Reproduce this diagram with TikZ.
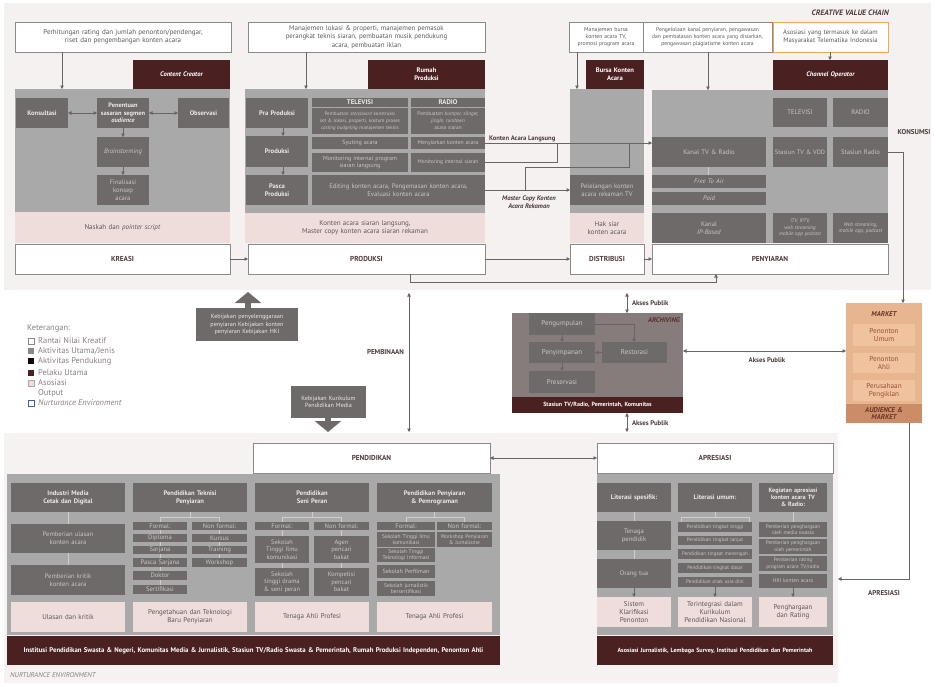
\documentclass[tikz,border=0pt]{standalone}
\usepackage{fontspec}
\setmainfont{PT Sans}
\usetikzlibrary{arrows.meta,calc}

\definecolor{bgtop}{HTML}{F6F1F1}
\definecolor{bgbot}{HTML}{F7F2F2}
\definecolor{panelgray}{HTML}{A9A9A9}
\definecolor{boxgray}{HTML}{6F6A6A}
\definecolor{maroon}{HTML}{4A2120}
\definecolor{pinkout}{HTML}{EEDDDA}
\definecolor{edgegray}{HTML}{8A8A8A}
\definecolor{txtdark}{HTML}{4E3A3A}
\definecolor{txtgray}{HTML}{5E5858}
\definecolor{lighttxt}{HTML}{ECE8E8}
\definecolor{dimtxt}{HTML}{CBC6C6}
\definecolor{archgray}{HTML}{877C7C}
\definecolor{mkt}{HTML}{E8B591}
\definecolor{mktin}{HTML}{F1C29E}
\definecolor{mktbar}{HTML}{CB8D68}
\definecolor{mkttxt}{HTML}{93513E}
\definecolor{mktdark}{HTML}{6B3526}
\definecolor{orangeedge}{HTML}{F2A65A}
\definecolor{linegray}{HTML}{6A6464}
\definecolor{treegray}{HTML}{D2CDCD}
\definecolor{legtxt}{HTML}{8A8080}
\definecolor{nurtblue}{HTML}{3C5FA5}
\definecolor{archtxt}{HTML}{5C2E2E}

\newcommand\fsz[2]{\fontsize{#1}{#2}\selectfont}

\tikzset{
  base/.style={inner sep=1pt, outer sep=0pt, align=center},
  topbox/.style={base, draw=edgegray, line width=0.7pt, fill=white, text=txtgray, font=\fsz{7}{8.4}},
  actor/.style={base, fill=maroon, text=white, font=\fsz{6.6}{7.8}\bfseries},
  actorit/.style={actor, font=\fsz{6.6}{7.8}\bfseries\itshape},
  panel/.style={base, fill=panelgray},
  dbox/.style={base, fill=boxgray, text=lighttxt, font=\fsz{6.6}{7.8}\bfseries},
  lbox/.style={base, fill=boxgray, text=dimtxt, font=\fsz{6.6}{7.8}},
  sbox/.style={lbox, inner ysep=0pt, font=\fsz{6.6}{7}},
  outbox/.style={base, fill=pinkout, text=txtgray, font=\fsz{7}{8.3}},
  chain/.style={base, draw=edgegray, line width=0.7pt, fill=white, text=txtdark, font=\fsz{7.2}{8.4}\bfseries},
  lbl/.style={inner sep=0pt, outer sep=0pt, text=txtdark, font=\fsz{7}{8}\bfseries, align=center},
  mktbox/.style={base, fill=mktin, text=mkttxt, font=\fsz{7.2}{8.2}},
  arr/.style={draw=linegray, line width=0.6pt, -{Triangle[length=3.5pt,width=3.5pt]}},
  darr/.style={draw=linegray, line width=0.6pt, {Triangle[length=3.5pt,width=3.5pt]}-{Triangle[length=3.5pt,width=3.5pt]}},
  ln/.style={draw=linegray, line width=0.6pt},
  tree/.style={draw=treegray, line width=0.5pt},
  fatarrow/.style={draw=boxgray, line width=6pt, -{Triangle[length=11pt,width=26pt]}},
  legsq/.style={minimum size=6pt, inner sep=0pt, outer sep=0pt, line width=0.6pt},
  legtx/.style={inner sep=0pt, anchor=west, text=legtxt, font=\fsz{8.4}{9.5}},
}

% box from (x1,y1) to (x2,y2), y measured downwards
\newcommand\plbox[8][]{%
  \pgfmathsetmacro\bxw{#6-#4}%
  \pgfmathsetmacro\bxh{#7-#5}%
  \pgfmathsetmacro\bxt{max(#6-#4-2,1)}%
  \node[#2, anchor=north west, minimum width=\bxw pt, minimum height=\bxh pt, text width=\bxt pt, #1] (#3) at (#4,#5) {#8};}

\begin{document}
\begin{tikzpicture}[x=1pt,y=-1pt]
\useasboundingbox (0,0) rectangle (934,686);
\fill[white] (0,0) rectangle (934,686);
\fill[bgtop] (4,3) rectangle (931,290);
\fill[bgbot] (4,433) rectangle (838,683);

\node[anchor=east, inner sep=0pt, text=txtdark, font=\fsz{7.8}{9}\bfseries\itshape] (cvc) at (889,13) {CREATIVE VALUE CHAIN};

% ---------------- KREASI ----------------
\plbox{topbox}{kTop}{15}{22}{231}{52}{Perhitungan rating dan jumlah penonton/pendengar,\\ riset dan pengembangan konten acara}
\plbox{panel}{kPan}{15}{89}{230}{212}{}
\plbox{actorit}{kAct}{133}{60}{230}{89}{Content Creator}
\plbox{dbox}{kKons}{16}{98}{68}{128}{Konsultasi}
\plbox[font=\fsz{6.4}{7.6}\bfseries]{dbox}{kSeg}{97}{98}{149}{128}{Penentuan\\ sasaran segmen\\ \textit{audience}}
\plbox{dbox}{kObs}{178}{98}{229}{128}{Observasi}
\plbox[font=\fsz{6.6}{7.8}\itshape]{lbox}{kBrain}{97}{137}{149}{167}{Brainstorming}
\plbox{lbox}{kFin}{97}{175}{149}{205}{Finalisasi\\ konsep\\ acara}
\plbox{outbox}{kOut}{15}{212}{230}{243}{Naskah dan \textit{pointer script}}
\plbox{chain}{kChain}{15}{244}{230}{274}{KREASI}

\draw[arr] (62,0 |- kTop.south) -- (62,0 |- kPan.north);
\draw[darr] (kKons.east) -- (kSeg.west);
\draw[darr] (kSeg.east) -- (kObs.west);
\draw[arr] (kSeg.south) -- (kBrain.north);
\draw[arr] (kBrain.south) -- (kFin.north);

% ---------------- PRODUKSI ----------------
\plbox[font=\fsz{6.9}{8.3}]{topbox}{pTop}{248}{22}{485}{52}{Manajemen lokasi \& properti, manajemen pemasok\\ perangkat teknis siaran, pembuatan musik pendukung\\ acara, pembuatan iklan}
\plbox{panel}{pPan}{245}{89}{485}{213}{}
\plbox{actor}{pAct}{368}{60}{485}{89}{Rumah\\ Produksi}
\plbox{dbox}{pPra}{246}{98}{308}{128}{Pra Produksi}
\plbox{dbox}{pProd}{246}{136}{308}{167}{Produksi}
\plbox{dbox}{pPasca}{246}{175}{308}{205}{Pasca\\ Produksi}
\plbox[inner ysep=0pt, font=\fsz{6.8}{7.2}\bfseries]{dbox}{pTV}{312}{98}{408}{107}{TELEVISI}
\plbox[inner ysep=0pt, font=\fsz{6.8}{7.2}\bfseries]{dbox}{pRad}{411}{98}{485}{107}{RADIO}
\plbox[inner ysep=0pt, font=\fsz{5}{7}]{lbox}{pTVa}{312}{108}{408}{134}{Pembuatan \textit{storyboard} konstruksi\\ set \& lokasi, properti, kostum proses\\ \textit{casting budgeting} manajemen teknis}
\plbox[inner ysep=0pt, font=\fsz{5.3}{7}]{lbox}{pRadA}{411}{108}{485}{134}{Pembuatan \textit{bumper, slinger,}\\ \textit{jingle, rundown}\\ acara siaran}
\plbox[inner ysep=0pt, font=\fsz{6}{7}]{lbox}{pTVb}{312}{137}{408}{149}{Syuting acara}
\plbox[inner ysep=0pt, font=\fsz{5.6}{7}]{lbox}{pRadB}{411}{137}{485}{149}{Menyiarkan konten acara}
\plbox[inner ysep=0pt, font=\fsz{6}{7.2}]{lbox}{pTVc}{312}{153}{408}{172}{Monitoring internal program\\ siaran langsung}
\plbox[inner ysep=0pt, font=\fsz{5.4}{7}]{lbox}{pRadC}{411}{153}{485}{172}{Monitoring internal siaran}
\plbox{lbox}{pEd}{312}{175}{485}{205}{Editing konten acara, Pengemasan konten acara,\\ Evaluasi konten acara}
\plbox{outbox}{pOut}{245}{213}{485}{243}{Konten acara siaran langsung,\\ Master copy konten acara siaran rekaman}
\plbox{chain}{pChain}{248}{244}{485}{274}{PRODUKSI}

\draw[arr] (306,0 |- pTop.south) -- (306,0 |- pPan.north);
\draw[arr] (283,0 |- pPra.south) -- (283,0 |- pProd.north);
\draw[arr] (283,0 |- pProd.south) -- (283,0 |- pPasca.north);

% ---------------- DISTRIBUSI ----------------
\plbox[font=\fsz{5.7}{7.2}]{topbox}{dTop}{569}{22}{643}{52}{Manajemen bursa\\ konten acara TV,\\ promosi program acara}
\plbox{panel}{dPan}{570}{89}{644}{213}{}
\plbox{actor}{dAct}{586}{60}{644}{89}{Bursa Konten\\ Acara}
\plbox{lbox}{dLel}{570}{175}{644}{205}{Pelelangan konten\\ acara rekaman TV}
\plbox{outbox}{dOut}{570}{213}{644}{243}{Hak siar\\ konten acara}
\plbox{chain}{dChain}{570}{244}{644}{274}{DISTRIBUSI}

\draw[arr] (577,0 |- dTop.south) -- (577,0 |- dPan.north);

% ---------------- PENYIARAN ----------------
\plbox[font=\fsz{5.6}{7.2}]{topbox}{sTop}{643}{22}{772}{52}{Pengelolaan kanal penyiaran, pengawasan\\ dan pembatasan konten acara yang disiarkan,\\ pengawasan plagiatisme konten acara}
\plbox[draw=orangeedge, font=\fsz{6.6}{8}]{topbox}{sAsc}{773}{22}{888}{52}{Asosiasi yang termasuk ke dalam\\ Masyarakat Telematika Indonesia}
\plbox{panel}{sPan}{652}{90}{888}{243}{}
\plbox{actorit}{sAct}{773}{60}{888}{90}{Channel Operator}
\plbox{lbox}{sTV}{773}{98}{827}{127}{TELEVISI}
\plbox{lbox}{sRad}{833}{98}{888}{127}{RADIO}
\plbox{lbox}{sKanal}{652}{137}{766}{167}{Kanal TV \& Radio}
\plbox[font=\fsz{6.3}{7.6}]{lbox}{sStTV}{773}{137}{827}{167}{Stasiun TV \& VOD}
\plbox{lbox}{sStRad}{833}{137}{888}{167}{Stasiun Radio}
\plbox[inner ysep=0pt, font=\fsz{6.6}{7.4}\itshape]{lbox}{sFTA}{652}{175}{766}{188}{Free To Air}
\plbox[inner ysep=0pt, font=\fsz{6.6}{7.4}\itshape]{lbox}{sPaid}{652}{192}{766}{205}{Paid}
\plbox{lbox}{sIP}{652}{213}{766}{243}{Kanal\\ \textit{IP-Based}}
\plbox[inner ysep=0pt, font=\fsz{5.2}{6.6}\itshape]{lbox}{sITV}{773}{213}{827}{243}{ITV, IPTV,\\ web streaming\\ mobile app podcast}
\plbox[inner ysep=0pt, font=\fsz{5.3}{6.6}\itshape]{lbox}{sWeb}{833}{213}{888}{243}{Web streaming,\\ mobile app, podcast}
\plbox{chain}{sChain}{652}{244}{888}{274}{PENYIARAN}

\draw[arr] (708,0 |- sTop.south) -- (708,0 |- sPan.north);
\draw[arr] (830,0 |- sAsc.south) -- (830,0 |- sAct.north);
\draw[tree] (708,0 |- sKanal.south) -- (708,0 |- sFTA.north);

% ---------------- flows along the value chain ----------------
\draw[arr] (kChain.east) -- (pChain.west);
\draw[arr] (pChain.east) -- (dChain.west);
\draw[arr] (dChain.east) -- (sChain.west);
\draw[arr] (410,0 |- pChain.south) |- (716,282) -- (716,0 |- sChain.south);

\draw[arr] (pRadB.east) -- (pRadB.east -| sKanal.west);
\node[lbl, anchor=south west, font=\fsz{6.6}{7.6}\bfseries] (lblKAL) at (489,142) {Konten Acara Langsung};
\draw[ln] (pRadC.east) -| (557,0 |- pRadB.east);
\draw[ln] (629,0 |- pRadB.east) |- (525,167) -- (525,0 |- pEd.east);
\draw[arr] (pEd.east) -- (dLel.west);
\node[lbl, font=\fsz{6.6}{7.4}\bfseries\itshape] (lblMC) at (529,202) {Master Copy Konten\\ Acara Rekaman};

\node[lbl] (lblKons) at (914,132) {KONSUMSI};

% ---------------- policy and legend ----------------
\plbox[font=\fsz{6.1}{7.4}, text=lighttxt]{lbox}{pol}{196}{308}{298}{341}{Kebijakan penyelenggaraan\\ penyiaran Kebijakan konten\\ penyiaran Kebijakan HKI}
\coordinate (polTip) at (248,292);
\draw[fatarrow] (248,0 |- pol.north) -- (polTip);

\node[legtx] (legT) at (27,328) {Keterangan:};
\node[legsq, draw=edgegray, fill=white] (sq1) at (31,341) {};
\node[legtx] (lg1) at (38,341) {Rantai Nilai Kreatif};
\node[legsq, fill=boxgray!80] (sq2) at (31,351) {};
\node[legtx] (lg2) at (38,351) {Aktivitas Utama/Jenis};
\node[legsq, fill=black!75!maroon] (sq3) at (31,361) {};
\node[legtx] (lg3) at (38,361) {Aktivitas Pendukung};
\node[legsq, fill=maroon] (sq4) at (31,373) {};
\node[legtx] (lg4) at (38,373) {Pelaku Utama};
\node[legsq, draw=legtxt!70, fill=pinkout] (sq5) at (31,383) {};
\node[legtx] (lg5) at (38,383) {Asosiasi};
\node[legtx] (lg6) at (38,393) {Output};
\node[legsq, draw=nurtblue, line width=1pt, fill=white] (sq7) at (31,403) {};
\node[legtx] (lg7) at (38,403) {\textit{Nurturance Environment}};

\plbox[font=\fsz{6.1}{7.4}, text=lighttxt]{lbox}{kur}{291}{386}{366}{418}{Kebijakan Kurikulum\\ Pendidikan Media}
\coordinate (kurTip) at (328,432);
\draw[fatarrow] (328,0 |- kur.south) -- (kurTip);

\coordinate (pbTop) at (409,293);
\coordinate (pbBot) at (409,432);
\draw[darr] (pbTop) -- (pbBot);
\node[lbl, anchor=east] (lblPemb) at (404,352) {PEMBINAAN};

% ---------------- ARCHIVING ----------------
\plbox[fill=archgray]{panel}{arc}{512}{313}{683}{413}{}
\node[anchor=east, inner sep=0pt, text=archtxt, font=\fsz{6.8}{8}\bfseries\itshape] (arcT) at (680,320) {ARCHIVING};
\plbox[font=\fsz{7}{8}]{lbox}{aKum}{529}{313}{595}{335}{Pengumpulan}
\plbox[font=\fsz{7}{8}]{lbox}{aSim}{529}{342}{595}{363}{Penyimpanan}
\plbox[font=\fsz{7}{8}]{lbox}{aRes}{602}{342}{667}{363}{Restorasi}
\plbox[font=\fsz{7}{8}]{lbox}{aPres}{529}{371}{595}{393}{Preservasi}
\plbox[inner ysep=0pt, font=\fsz{6}{7}\bfseries]{actor}{aBar}{512}{397}{683}{413}{Stasiun TV/Radio, Pemerintah, Komunitas}
\draw[arr] (aKum.south) -- (aSim.north);
\draw[arr] (aSim.south) -- (aPres.north);
\draw[arr] (aRes.west) -- (aSim.east);
\draw[arr] (aKum.east) -| (634,0 |- aRes.north);

\coordinate (apTop) at (627,293);
\coordinate (apBot) at (627,432);
\draw[darr] (apTop) -- (627,0 |- arc.north);
\draw[darr] (627,0 |- arc.south) -- (apBot);
\node[lbl, anchor=west, font=\fsz{6.8}{8}\bfseries] (lblAP1) at (632,303) {Akses Publik};
\node[lbl, anchor=west, font=\fsz{6.8}{8}\bfseries] (lblAP2) at (632,423) {Akses Publik};

% ---------------- MARKET ----------------
\plbox[fill=mkt]{panel}{mkt}{846}{303}{922}{423}{}
\node[inner sep=0pt, text=mktdark, font=\fsz{7}{8}\bfseries\itshape] (mktT) at (884,314) {MARKET};
\plbox{mktbox}{mk1}{853}{324}{915}{346}{Penonton\\ Umum}
\plbox{mktbox}{mk2}{853}{353}{915}{373}{Penonton\\ Ahli}
\plbox{mktbox}{mk3}{853}{380}{915}{401}{Perusahaan\\ Pengiklan}
\plbox[fill=mktbar, text=mktdark, inner ysep=0pt, font=\fsz{7}{7.8}\bfseries\itshape]{panel}{mkBar}{846}{404}{922}{423}{AUDIENCE \&\\ MARKET}

\draw[arr] (sStRad.east) -| (903,0 |- mkt.north);
\draw[darr] (arc.east |- 0,351) -- (mkt.west |- 0,351);
\node[lbl, font=\fsz{6.8}{8}\bfseries] (lblAP3) at (767,360) {Akses Publik};

% ---------------- PENDIDIKAN ----------------
\plbox{panel}{ePan}{7}{474}{500}{635}{}
\plbox{chain}{eChain}{253}{443}{490}{473}{PENDIDIKAN}
\plbox[font=\fsz{6.8}{8}\bfseries]{actor}{eBar}{7}{636}{500}{665}{Institusi Pendidikan Swasta \& Negeri, Komunitas Media \& Jurnalistik, Stasiun TV/Radio Swasta \& Pemerintah, Rumah Produksi Independen, Penonton Ahli}
\node[anchor=west, inner sep=0pt, text=legtxt, font=\fsz{7}{8}\itshape] (nurt) at (10,675) {NURTURANCE ENVIRONMENT};

% media industry
\plbox{dbox}{e1h}{11}{483}{125}{512}{Industri Media\\ Cetak dan Digital}
\plbox{lbox}{e1a}{11}{524}{125}{553}{Pemberian ulasan\\ konten acara}
\plbox{lbox}{e1b}{11}{565}{125}{595}{Pemberian kritik\\ konten acara}
\plbox{outbox}{e1o}{11}{602}{125}{632}{Ulasan dan kritik}
\draw[tree] (e1h.south) -- (e1a.north);
\draw[tree] (e1a.south) -- (e1b.north);

% broadcast technicians
\plbox{dbox}{e2h}{133}{483}{247}{512}{Pendidikan Teknisi\\ Penyiaran}
\plbox{sbox}{e2f0}{133}{522}{187}{530}{Formal:}
\plbox{sbox}{e2f1}{133}{534}{187}{542}{Diploma}
\plbox{sbox}{e2f2}{133}{546}{187}{554}{Sarjana}
\plbox{sbox}{e2f3}{133}{558}{187}{567}{Pasca Sarjana}
\plbox{sbox}{e2f4}{133}{571}{187}{580}{Doktor}
\plbox{sbox}{e2f5}{133}{585}{187}{594}{Sertifikasi}
\plbox{sbox}{e2n0}{192}{522}{247}{530}{Non formal:}
\plbox{sbox}{e2n1}{192}{534}{247}{542}{Kursus}
\plbox{sbox}{e2n2}{192}{546}{247}{554}{Training}
\plbox{sbox}{e2n3}{192}{558}{247}{567}{Workshop}
\plbox{outbox}{e2o}{133}{602}{247}{632}{Pengetahuan dan Teknologi\\ Baru Penyiaran}
\draw[tree] (e2h.south) -- ++(0,5) -| (e2f0.north);
\draw[tree] (e2h.south) -- ++(0,5) -| (e2n0.north);
\foreach \a/\b in {e2f0/e2f1,e2f1/e2f2,e2f2/e2f3,e2f3/e2f4,e2f4/e2f5,e2n0/e2n1,e2n1/e2n2,e2n2/e2n3}
  \draw[tree] (\a.south) -- (\b.north);

% performing arts
\plbox{dbox}{e3h}{255}{483}{369}{512}{Pendidikan\\ Seni Peran}
\plbox{sbox}{e3f0}{255}{522}{309}{530}{Formal:}
\plbox{sbox}{e3n0}{314}{522}{369}{530}{Non formal:}
\plbox[font=\fsz{6.4}{7.6}]{lbox}{e3f1}{255}{536}{309}{563}{Sekolah\\ Tinggi Ilmu\\ komunikasi}
\plbox[font=\fsz{6.4}{7.6}]{lbox}{e3f2}{255}{568}{309}{596}{Sekolah\\ tinggi drama\\ \& seni peran}
\plbox[font=\fsz{6.4}{7.6}]{lbox}{e3n1}{314}{536}{369}{563}{Agen\\ pencari\\ bakat}
\plbox[font=\fsz{6.4}{7.6}]{lbox}{e3n2}{314}{568}{369}{596}{Kompetisi\\ pencari\\ bakat}
\plbox{outbox}{e3o}{255}{602}{369}{632}{Tenaga Ahli Profesi}
\draw[tree] (e3h.south) -- ++(0,5) -| (e3f0.north);
\draw[tree] (e3h.south) -- ++(0,5) -| (e3n0.north);
\foreach \a/\b in {e3f0/e3f1,e3f1/e3f2,e3n0/e3n1,e3n1/e3n2}
  \draw[tree] (\a.south) -- (\b.north);

% broadcasting and programming
\plbox{dbox}{e4h}{377}{483}{492}{512}{Pendidikan Penyiaran\\ \& Pemrograman}
\plbox{sbox}{e4f0}{377}{522}{435}{530}{Formal:}
\plbox{sbox}{e4n0}{437}{522}{492}{530}{Non formal:}
\plbox[inner ysep=0pt, font=\fsz{5.5}{6.4}]{lbox}{e4f1}{377}{532}{435}{547}{Sekolah Tinggi Ilmu\\ komunikasi}
\plbox[inner ysep=0pt, font=\fsz{5.5}{6.4}]{lbox}{e4f2}{377}{548}{435}{562}{Sekolah Tinggi\\ Teknologi Informasi}
\plbox[inner ysep=0pt, font=\fsz{6}{6.6}]{lbox}{e4f3}{377}{565}{435}{578}{Sekolah Perfilman}
\plbox[inner ysep=0pt, font=\fsz{5.5}{6.4}]{lbox}{e4f4}{377}{581}{435}{596}{Sekolah jurnalistik\\ bersertifikasi}
\plbox[inner ysep=0pt, font=\fsz{5.4}{6.4}]{lbox}{e4n1}{437}{532}{492}{547}{Workshop Penyiaran\\ \& Jurnalisme}
\plbox{outbox}{e4o}{377}{602}{492}{632}{Tenaga Ahli Profesi}
\draw[tree] (e4h.south) -- ++(0,5) -| (e4f0.north);
\draw[tree] (e4h.south) -- ++(0,5) -| (e4n0.north);

% ---------------- APRESIASI ----------------
\plbox{panel}{apPan}{597}{474}{833}{635}{}
\plbox{chain}{apChain}{597}{443}{833}{473}{APRESIASI}
\plbox[font=\fsz{6.1}{7.4}\bfseries]{actor}{apBar}{597}{636}{833}{665}{Asosiasi Jurnalistik, Lembaga Survey, Institusi Pendidikan dan Pemerintah}

\plbox{dbox}{a1h}{597}{483}{671}{512}{Literasi spesifik:}
\plbox{lbox}{a1a}{597}{521}{671}{550}{Tenaga\\ pendidik}
\plbox{lbox}{a1b}{597}{559}{671}{588}{Orang tua}
\plbox{outbox}{a1o}{597}{597}{671}{627}{Sistem\\ Klarifikasi\\ Penonton}
\draw[tree] (a1h.south) -- (a1a.north);
\draw[tree] (a1a.south) -- (a1b.north);
\draw[arr] (a1b.south) -- (a1o.north);

\plbox{dbox}{a2h}{678}{483}{752}{512}{Literasi umum:}
\plbox[inner ysep=0pt, font=\fsz{5.2}{6}]{lbox}{a2a}{678}{522}{752}{532}{Pendidikan tingkat tinggi}
\plbox[inner ysep=0pt, font=\fsz{5.2}{6}]{lbox}{a2b}{678}{536}{752}{545}{Pendidikan tingkat lanjut}
\plbox[inner ysep=0pt, font=\fsz{5.1}{6}]{lbox}{a2c}{678}{549}{752}{559}{Pendidikan tingkat menengah}
\plbox[inner ysep=0pt, font=\fsz{5.2}{6}]{lbox}{a2d}{678}{563}{752}{573}{Pendidikan tingkat dasar}
\plbox[inner ysep=0pt, font=\fsz{5.2}{6}]{lbox}{a2e}{678}{577}{752}{587}{Pendidikan anak usia dini}
\plbox{outbox}{a2o}{678}{597}{752}{627}{Terintegrasi dalam\\ Kurikulum\\ Pendidikan Nasional}
\draw[tree] (a2h.south) -- ++(0,5) -| ($(a2a.north west)+(3,0)$);
\draw[tree] (a2h.south) -- ++(0,5) -| ($(a2a.north east)+(-3,0)$);
\draw[arr] (a2e.south) -- (a2o.north);

\plbox[font=\fsz{6.2}{7.2}\bfseries]{dbox}{a3h}{759}{483}{827}{512}{Kegiatan apresiasi\\ konten acara TV\\ \& Radio:}
\plbox[inner ysep=0pt, font=\fsz{5.2}{6.4}]{lbox}{a3a}{759}{522}{827}{537}{Pemberian penghargaan\\ oleh media swasta}
\plbox[inner ysep=0pt, font=\fsz{5.2}{6.4}]{lbox}{a3b}{759}{539}{827}{554}{Pemberian penghargaan\\ oleh pemerintah}
\plbox[inner ysep=0pt, font=\fsz{5.2}{6.4}]{lbox}{a3c}{759}{556}{827}{571}{Pemberian rating\\ program acara TV/radio}
\plbox[inner ysep=0pt, font=\fsz{5.4}{6.4}]{lbox}{a3d}{759}{574}{827}{588}{HKI konten acara}
\plbox{outbox}{a3o}{759}{597}{827}{627}{Penghargaan\\ dan Rating}
\draw[tree] (a3h.south) -- (a3a.north);
\draw[arr] (a3d.south) -- (a3o.north);

\draw[darr] (eChain.east) -- (apChain.west);
\draw[arr] (909,0 |- mkt.south) |- ($(apPan.east |- 0,579)+(5,0)$);
\node[lbl] (lblApr) at (884,593) {APRESIASI};
\end{tikzpicture}
\end{document}
